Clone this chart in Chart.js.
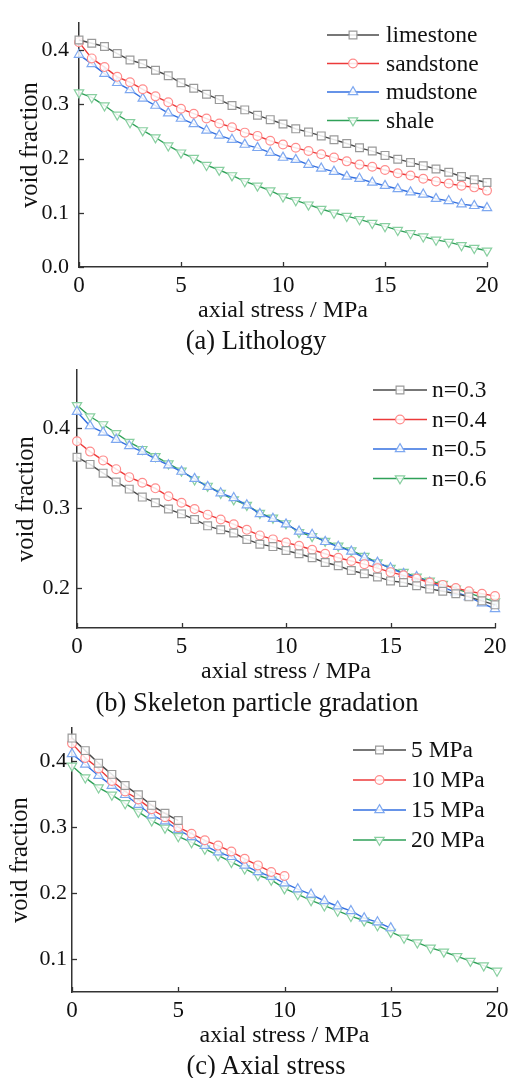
<!DOCTYPE html>
<html><head><meta charset="utf-8">
<script src="https://cdn.jsdelivr.net/npm/chart.js@4.4.0/dist/chart.umd.min.js"></script>
<style>
body{margin:0;background:#fff;width:515px;height:1078px;position:relative;overflow:hidden;font-family:"Liberation Serif","Times New Roman",serif;}
.wrap{position:absolute;left:0;width:515px;}
.cap{position:absolute;font-size:26.5px;color:#111;white-space:nowrap;transform:translate(-50%,-50%);line-height:1;}
</style></head><body>
<div class="wrap" style="top:0;height:325px"><canvas id="cA" width="515" height="325"></canvas></div>
<div class="cap" style="left:256px;top:340px">(a) Lithology</div>
<div class="wrap" style="top:350px;height:336px"><canvas id="cB" width="515" height="336"></canvas></div>
<div class="cap" style="left:257px;top:702px">(b) Skeleton particle gradation</div>
<div class="wrap" style="top:710px;height:340px"><canvas id="cC" width="515" height="340"></canvas></div>
<div class="cap" style="left:266px;top:1065px">(c) Axial stress</div>
<script>
// ---------- data ----------
const xStress = [0,0.625,1.25,1.875,2.5,3.125,3.75,4.375,5,5.625,6.25,6.875,7.5,8.125,8.75,9.375,10,10.625,11.25,11.875,12.5,13.125,13.75,14.375,15,15.625,16.25,16.875,17.5,18.125,18.75,19.375,20];
const xTicks = [0,5,10,15,20];

// (a) Lithology
const lithLabels = ['limestone','sandstone','mudstone','shale'];
const limestone = [0.419,0.413,0.407,0.394,0.382,0.375,0.363,0.353,0.340,0.330,0.319,0.309,0.298,0.290,0.280,0.272,0.264,0.255,0.249,0.242,0.235,0.228,0.220,0.214,0.206,0.199,0.193,0.187,0.181,0.175,0.167,0.161,0.156];
const sandstone = [0.415,0.385,0.369,0.351,0.341,0.328,0.315,0.304,0.292,0.283,0.274,0.265,0.258,0.248,0.242,0.233,0.226,0.220,0.214,0.208,0.202,0.195,0.189,0.185,0.179,0.173,0.169,0.163,0.158,0.154,0.150,0.147,0.141];
const mudstone  = [0.392,0.375,0.357,0.340,0.327,0.311,0.298,0.284,0.274,0.264,0.252,0.243,0.235,0.226,0.220,0.211,0.202,0.198,0.189,0.182,0.176,0.167,0.163,0.156,0.150,0.144,0.138,0.134,0.126,0.122,0.116,0.113,0.109];
const shale     = [0.322,0.313,0.298,0.281,0.267,0.252,0.239,0.224,0.211,0.201,0.188,0.179,0.169,0.158,0.150,0.141,0.130,0.123,0.115,0.107,0.100,0.094,0.088,0.081,0.075,0.068,0.062,0.056,0.050,0.046,0.040,0.035,0.030];
const yTicksA = [0.0,0.1,0.2,0.3,0.4];

// (b) Skeleton particle gradation
const gradLabels = ['n=0.3','n=0.4','n=0.5','n=0.6'];
const n03 = [0.364,0.355,0.344,0.333,0.324,0.314,0.307,0.299,0.293,0.286,0.278,0.273,0.269,0.261,0.255,0.252,0.247,0.243,0.238,0.232,0.228,0.222,0.218,0.214,0.209,0.207,0.203,0.199,0.196,0.193,0.189,0.184,0.179];
const n04 = [0.384,0.371,0.360,0.349,0.339,0.332,0.325,0.315,0.307,0.299,0.292,0.286,0.280,0.273,0.266,0.261,0.257,0.253,0.248,0.243,0.238,0.234,0.230,0.225,0.220,0.216,0.212,0.207,0.204,0.200,0.196,0.193,0.190];
const n05 = [0.421,0.403,0.395,0.386,0.378,0.371,0.362,0.354,0.346,0.337,0.327,0.319,0.313,0.304,0.293,0.287,0.280,0.271,0.267,0.258,0.252,0.246,0.238,0.232,0.225,0.218,0.214,0.207,0.201,0.195,0.189,0.181,0.174];
const n06 = [0.429,0.415,0.405,0.394,0.383,0.374,0.365,0.356,0.347,0.336,0.328,0.319,0.311,0.304,0.294,0.288,0.281,0.270,0.265,0.259,0.253,0.247,0.240,0.232,0.225,0.220,0.214,0.209,0.205,0.199,0.194,0.188,0.183];
const yTicksB = [0.2,0.3,0.4];

// (c) Axial stress
const stressLabels = ['5 MPa','10 MPa','15 MPa','20 MPa'];
const p5  = [0.435,0.416,0.397,0.380,0.363,0.349,0.333,0.321,0.310];
const p10 = [0.427,0.405,0.389,0.370,0.354,0.342,0.327,0.315,0.300,0.290,0.280,0.272,0.263,0.252,0.242,0.232,0.226];
const p15 = [0.411,0.395,0.378,0.363,0.349,0.334,0.318,0.309,0.296,0.285,0.272,0.262,0.255,0.242,0.232,0.225,0.215,0.206,0.198,0.188,0.180,0.173,0.162,0.156,0.147];
const p20 = [0.393,0.375,0.360,0.349,0.336,0.323,0.310,0.299,0.286,0.277,0.267,0.257,0.247,0.237,0.227,0.220,0.207,0.198,0.189,0.181,0.173,0.165,0.158,0.151,0.141,0.132,0.125,0.117,0.111,0.104,0.097,0.090,0.082];
const yTicksC = [0.1,0.2,0.3,0.4];

// ---------- styles ----------
const FONT = "'Liberation Serif','Times New Roman',serif";
const styles = [
  {line:'#4a4a4a', mark:'#9a9a9a', shape:'rect', r:5.5, rot:0},
  {line:'#ec3a3a', mark:'#ff8c8c', shape:'circle', r:4.4, rot:0},
  {line:'#336fe0', mark:'#7ea8f0', shape:'triangle', r:5.4, rot:0},
  {line:'#2fa158', mark:'#88cfa0', shape:'triangle', r:5.4, rot:180}
];

function makeDatasets(labels, series){
  return series.map((s,k)=>({
    label: labels[k],
    data: s.map((v,i)=>({x:xStress[i], y:v})),
    borderColor: styles[k].line,
    borderWidth: 1.4,
    pointStyle: styles[k].shape,
    pointRadius: styles[k].r,
    pointRotation: styles[k].rot,
    pointBorderColor: styles[k].mark,
    pointBackgroundColor: 'rgba(255,255,255,0.85)',
    pointBorderWidth: 1.2,
    tension: 0,
    clip: false
  }));
}

function drawMarker(ctx, st, x, y){
  ctx.save();
  ctx.strokeStyle = st.mark; ctx.fillStyle = 'rgba(255,255,255,0.85)'; ctx.lineWidth = 1.2;
  ctx.beginPath();
  if (st.shape === 'rect'){
    const s = st.r*Math.SQRT1_2; ctx.rect(x-s,y-s,2*s,2*s);
  } else if (st.shape === 'circle'){
    ctx.arc(x,y,st.r,0,Math.PI*2);
  } else {
    let rad = st.rot*Math.PI/180;
    for (let i=0;i<3;i++){
      const px = x + Math.sin(rad)*st.r, py = y - Math.cos(rad)*st.r;
      i===0 ? ctx.moveTo(px,py) : ctx.lineTo(px,py);
      rad += 2*Math.PI/3;
    }
    ctx.closePath();
  }
  ctx.fill(); ctx.stroke(); ctx.restore();
}

const innerTicks = {
  id:'innerTicks',
  afterDraw(chart){
    const {ctx, chartArea:a, scales:{x,y}} = chart;
    ctx.save(); ctx.strokeStyle = '#333'; ctx.lineWidth = 1.3;
    x.ticks.forEach(t=>{const p = Math.round(x.getPixelForValue(t.value))+0.5; ctx.beginPath(); ctx.moveTo(p,a.bottom); ctx.lineTo(p,a.bottom-5); ctx.stroke();});
    y.ticks.forEach(t=>{const p = Math.round(y.getPixelForValue(t.value))+0.5; ctx.beginPath(); ctx.moveTo(a.left,p); ctx.lineTo(a.left+5,p); ctx.stroke();});
    ctx.restore();
  }
};

const insideLegend = {
  id:'insideLegend',
  afterDraw(chart, args, opts){
    const ctx = chart.ctx;
    chart.data.datasets.forEach((ds,k)=>{
      const yy = opts.top + k*opts.gap;
      ctx.save();
      ctx.strokeStyle = ds.borderColor; ctx.lineWidth = 1.4;
      ctx.beginPath(); ctx.moveTo(opts.left, yy); ctx.lineTo(opts.left+opts.len, yy); ctx.stroke();
      ctx.restore();
      drawMarker(ctx, styles[k], opts.left+opts.len/2, yy);
      ctx.save();
      ctx.fillStyle = '#111'; ctx.font = opts.size+'px '+FONT; ctx.textBaseline = 'middle'; ctx.textAlign='left';
      ctx.fillText(ds.label, opts.left+opts.len+opts.textGap, yy+1);
      ctx.restore();
    });
  }
};

function makeChart(id, labels, series, yMin, yMax, yTicks, lay, legend){
  return new Chart(document.getElementById(id), {
    type:'line',
    data:{datasets: makeDatasets(labels, series)},
    plugins:[innerTicks, insideLegend],
    options:{
      responsive:false, animation:false, devicePixelRatio:1,
      layout:{padding:{left:0, right:lay.right, top:lay.top, bottom:0}},
      plugins:{legend:{display:false}, tooltip:{enabled:false}, insideLegend: legend},
      scales:{
        x:{type:'linear', min:0, max:20,
           afterBuildTicks(s){ s.ticks = xTicks.map(v=>({value:v})); },
           afterFit(s){ s.height = 58; },
           grid:{display:true, drawOnChartArea:false, drawTicks:false},
           border:{display:true, color:'#333', width:1.5},
           ticks:{padding:5, color:'#111', font:{family:FONT, size:23}, maxRotation:0, callback:v=>String(v)},
           title:{display:true, text:'axial stress / MPa', color:'#111', font:{family:FONT, size:24}, padding:{top:0,bottom:0}}
        },
        y:{type:'linear', min:yMin, max:yMax,
           afterBuildTicks(s){ s.ticks = yTicks.map(v=>({value:v})); },
           afterFit(s){ s.width = lay.yw; },
           grid:{display:true, drawOnChartArea:false, drawTicks:false},
           border:{display:true, color:'#333', width:1.5},
           ticks:{padding:lay.tp, color:'#111', font:{family:FONT, size:22}, callback:v=>Number(v).toFixed(1)},
           title:{display:true, text:'void fraction', color:'#111', font:{family:FONT, size:24.5}, padding:{top:lay.tt,bottom:0}}
        }
      }
    }
  });
}

makeChart('cA', lithLabels, [limestone,sandstone,mudstone,shale], 0, 0.45, yTicksA,
  {right:28, top:10, yw:79, tp:10, tt:16},
  {left:327, top:35, gap:28.5, len:52, textGap:7, size:23.5});
makeChart('cB', gradLabels, [n03,n04,n05,n06], 0.15, 0.473, yTicksB,
  {right:20, top:14, yw:77, tp:7, tt:12},
  {left:373, top:40, gap:29.5, len:54, textGap:5, size:23.5});
makeChart('cC', stressLabels, [p5,p10,p15,p20], 0.05, 0.45, yTicksC,
  {right:18, top:13, yw:72, tp:5, tt:6},
  {left:353, top:40, gap:30, len:53, textGap:5, size:23.5});
</script>
</body></html>
